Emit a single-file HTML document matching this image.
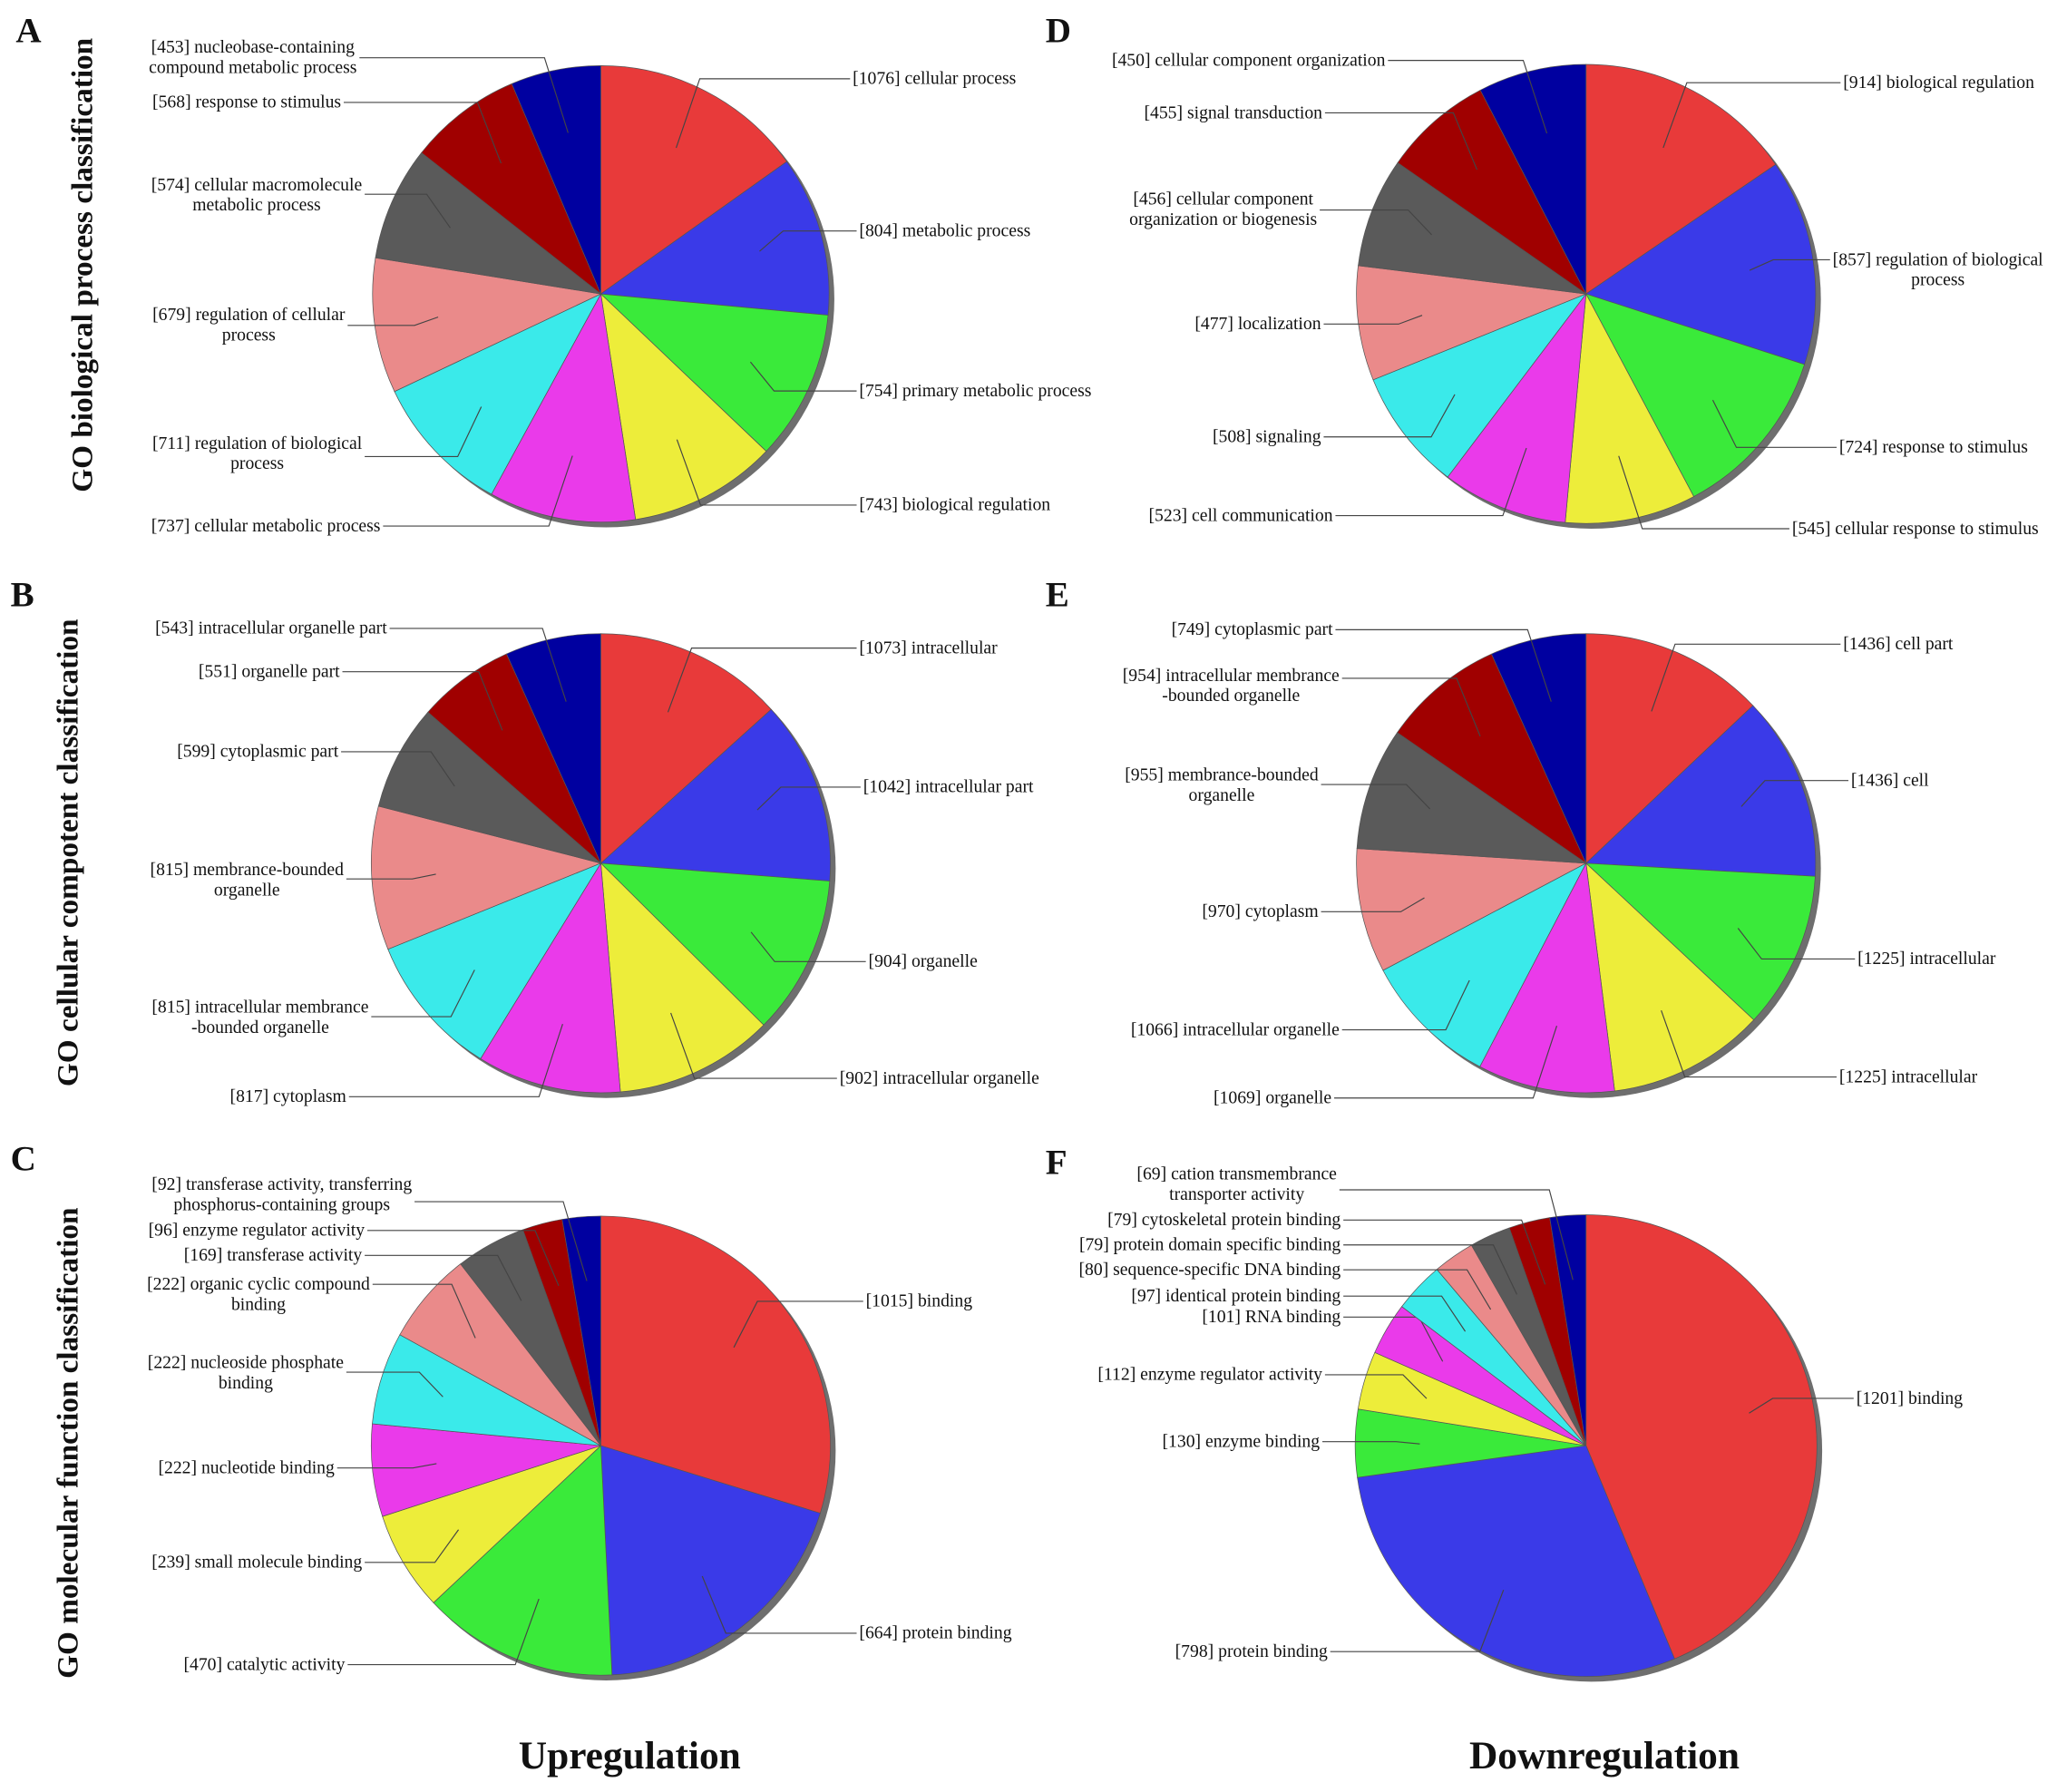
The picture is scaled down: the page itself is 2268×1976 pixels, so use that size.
<!DOCTYPE html>
<html><head><meta charset="utf-8">
<style>
html,body{margin:0;padding:0;background:#fff;}
svg{display:block;}
text{font-family:"Liberation Serif",serif;fill:#111;}
.lbl{font-size:13.6px;}
</style></head>
<body>
<svg id="fig" width="2268" height="1976" viewBox="0 0 1568 1366" xmlns="http://www.w3.org/2000/svg">
<rect width="1568" height="1366" fill="#fff"/>
<g font-weight="bold" font-size="27">
<text x="12" y="32">A</text>
<text x="8" y="462">B</text>
<text x="8" y="892">C</text>
<text x="797" y="32">D</text>
<text x="797" y="462">E</text>
<text x="797" y="895">F</text>
</g>
<g font-weight="bold" font-size="23" text-anchor="middle">
<text transform="translate(70,202) rotate(-90)">GO biological process classification</text>
<text transform="translate(59,650) rotate(-90)">GO cellular compotent classification</text>
<text transform="translate(59,1100) rotate(-90)">GO molecular function classification</text>
</g>
<g font-weight="bold" font-size="30" text-anchor="middle">
<text x="480" y="1348">Upregulation</text>
<text x="1223" y="1348">Downregulation</text>
</g>
</svg>
<script>
const colors=["#e83a3a","#3a3ae8","#3aea3a","#eded3a","#ea3aea","#3aeaea","#ea8a8a","#5a5a5a","#a00000","#0000a0"];
// Panel A
const valuesA=[1076,804,754,743,737,711,679,574,568,453];
const labelsA=[["[1076] cellular process"],["[804] metabolic process"],["[754] primary metabolic process"],["[743] biological regulation"],["[737] cellular metabolic process"],["[711] regulation of biological","process"],["[679] regulation of cellular","process"],["[574] cellular macromolecule","metabolic process"],["[568] response to stimulus"],["[453] nucleobase-containing","compound metabolic process"]];
// Panel B
const valuesB=[1073,1042,904,902,817,815,815,599,551,543];
const labelsB=[["[1073] intracellular"],["[1042] intracellular part"],["[904] organelle"],["[902] intracellular organelle"],["[817] cytoplasm"],["[815] intracellular membrance","-bounded organelle"],["[815] membrance-bounded","organelle"],["[599] cytoplasmic part"],["[551] organelle part"],["[543] intracellular organelle part"]];
// Panel C
const valuesC=[1015,664,470,239,222,222,222,169,96,92];
const labelsC=[["[1015] binding"],["[664] protein binding"],["[470] catalytic activity"],["[239] small molecule binding"],["[222] nucleotide binding"],["[222] nucleoside phosphate","binding"],["[222] organic cyclic compound","binding"],["[169] transferase activity"],["[96] enzyme regulator activity"],["[92] transferase activity, transferring","phosphorus-containing groups"]];
// Panel D
const valuesD=[914,857,724,545,523,508,477,456,455,450];
const labelsD=[["[914] biological regulation"],["[857] regulation of biological","process"],["[724] response to stimulus"],["[545] cellular response to stimulus"],["[523] cell communication"],["[508] signaling"],["[477] localization"],["[456] cellular component","organization or biogenesis"],["[455] signal transduction"],["[450] cellular component organization"]];
// Panel E
const valuesE=[1436,1436,1225,1225,1069,1066,970,955,954,749];
const labelsE=[["[1436] cell part"],["[1436] cell"],["[1225] intracellular"],["[1225] intracellular"],["[1069] organelle"],["[1066] intracellular organelle"],["[970] cytoplasm"],["[955] membrance-bounded","organelle"],["[954] intracellular membrance","-bounded organelle"],["[749] cytoplasmic part"]];
// Panel F
const valuesF=[1201,798,130,112,101,97,80,79,79,69];
const labelsF=[["[1201] binding"],["[798] protein binding"],["[130] enzyme binding"],["[112] enzyme regulator activity"],["[101] RNA binding"],["[97] identical protein binding"],["[80] sequence-specific DNA binding"],["[79] protein domain specific binding"],["[79] cytoskeletal protein binding"],["[69] cation transmembrance","transporter activity"]];

const panels=[
 {id:"a",cx:458,cy:224,r:174,v:valuesA,l:labelsA,pos:[["R",650,60],["R",655,176],["R",655,298],["R",655,385],["L",290,401],["L",276,338,348],["L",263,240,248],["L",276,141,148],["L",260,78],["L",272,36,44]]},
 {id:"b",cx:458,cy:658,r:175,v:valuesB,l:labelsB,pos:[["R",655,494],["R",658,600],["R",662,733],["R",640,822],["L",264,836],["L",281,768,775],["L",262,663,670],["L",258,573],["L",259,512],["L",295,479]]},
 {id:"c",cx:458,cy:1102,r:175,v:valuesC,l:labelsC,pos:[["R",660,992],["R",655,1245],["L",263,1269],["L",276,1191],["L",255,1119],["L",262,1039,1046],["L",282,979,979],["L",276,957],["L",278,938],["L",314,903,916]]},
 {id:"d",cx:1209,cy:224,r:175,v:valuesD,l:labelsD,pos:[["R",1405,63],["R",1397,198,198],["R",1402,341],["R",1366,403],["L",1016,393],["L",1007,333],["L",1007,247],["L",1004,152,160],["L",1008,86],["L",1056,46]]},
 {id:"e",cx:1209,cy:658,r:175,v:valuesE,l:labelsE,pos:[["R",1405,491],["R",1411,595],["R",1416,731],["R",1402,821],["L",1015,837],["L",1021,785],["L",1005,695],["L",1005,591,598],["L",1021,515,517],["L",1016,480]]},
 {id:"f",cx:1209,cy:1102,r:176,v:valuesF,l:labelsF,pos:[["R",1415,1066],["L",1012,1259],["L",1006,1099],["L",1008,1048],["L",1022,1004],["L",1022,988],["L",1022,968],["L",1022,949],["L",1022,930],["L",1019,895,907]]}
];
const NS="http://www.w3.org/2000/svg";
const svg=document.getElementById("fig");
function mk(t,a,p){const e=document.createElementNS(NS,t);for(const k in a)e.setAttribute(k,a[k]);(p||svg).appendChild(e);return e;}
function pt(cx,cy,r,ang){return [cx+r*Math.sin(ang),cy-r*Math.cos(ang)];}
panels.forEach(P=>{
  const g=mk("g",{});
  
  
  const sh=mk("circle",{cx:P.cx+4,cy:P.cy+4,r:P.r,fill:"#6e6e6e"},g);
  
  
  const tot=P.v.reduce((a,b)=>a+b,0);
  let a0=0;
  P.v.forEach((val,i)=>{
    const a1=a0+val/tot*2*Math.PI;
    const p0=pt(P.cx,P.cy,P.r,a0),p1=pt(P.cx,P.cy,P.r,a1);
    const large=(a1-a0)>Math.PI?1:0;
    const s=mk("path",{d:`M${P.cx},${P.cy}L${p0[0]},${p0[1]}A${P.r},${P.r} 0 ${large} 1 ${p1[0]},${p1[1]}Z`,fill:colors[i],stroke:"#555","stroke-width":0.5},g);
    
    
    const mid=(a0+a1)/2;
    const ip=pt(P.cx,P.cy,P.r*0.72,mid);
    const ps=P.pos[i];const side=ps[0],ax=ps[1],ty=ps[2],ly=ps[3]!==undefined?ps[3]:ty;
    const lines=P.l[i];
    const t=mk("text",{class:"lbl"},g);
    
    
    const tsp=lines.map((s,k)=>{const sp=mk("tspan",{y:ty+4+k*15.5},t);sp.textContent=s;return sp;});
    const widths=tsp.map(s=>s.getComputedTextLength());
    const W=Math.max(...widths);
    const centerX=side==="L"?ax-W/2:ax+W/2;
    tsp.forEach(sp=>{sp.setAttribute("x",centerX);sp.setAttribute("text-anchor","middle");});
    const sx=side==="L"?ax+2:ax-2;
    const ex=side==="L"?ip[0]-Math.min(18,Math.abs(ip[0]-sx)/3):ip[0]+Math.min(18,Math.abs(sx-ip[0])/3);
    const ln=mk("polyline",{points:`${sx},${ly} ${ex},${ly} ${ip[0]},${ip[1]}`,fill:"none",stroke:"#444","stroke-width":0.8},g);
    
    
    a0=a1;
  });
});
</script>
</body></html>
